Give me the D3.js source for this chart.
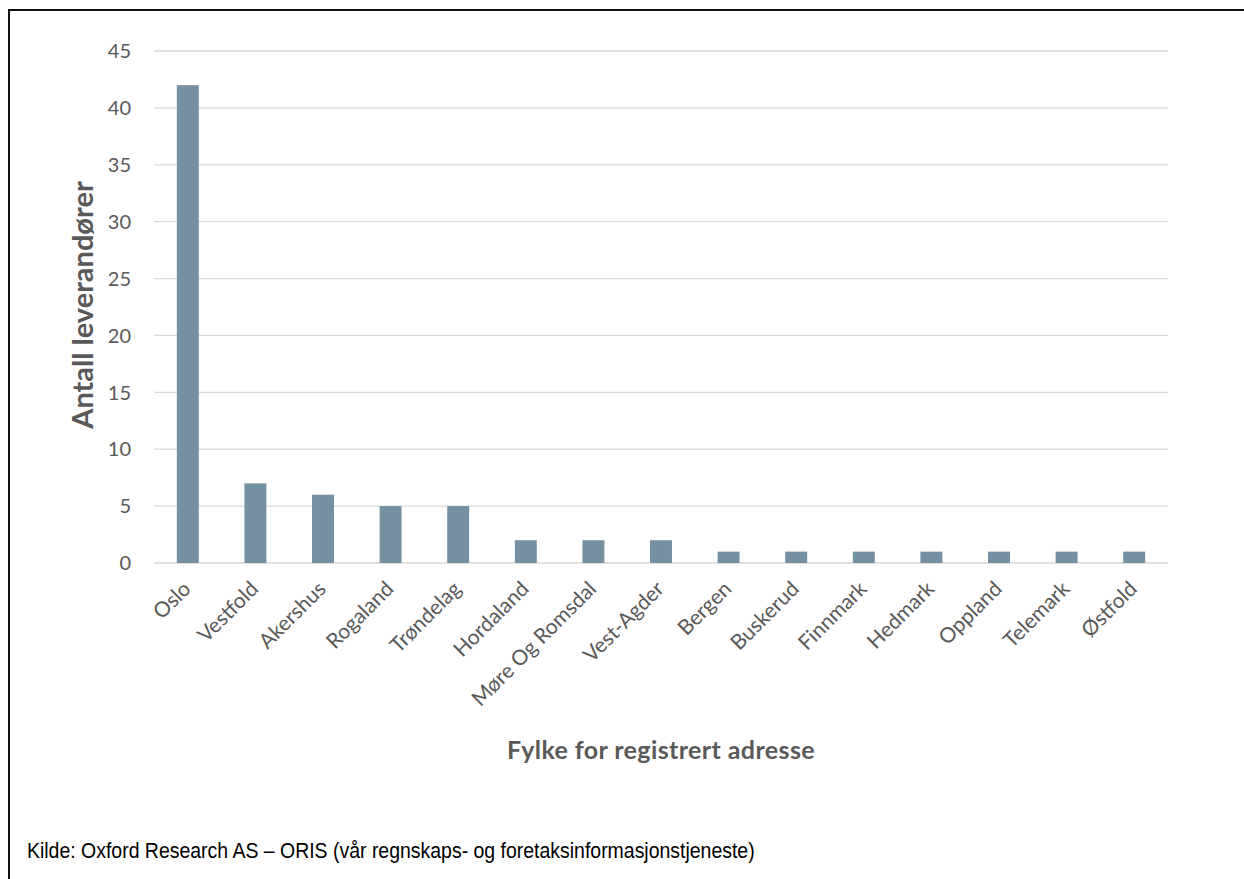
<!DOCTYPE html>
<html>
<head>
<meta charset="utf-8">
<script src="https://cdn.jsdelivr.net/npm/d3@7"></script>
<style>
  html, body { margin: 0; padding: 0; background: #fff; }
  svg { display: block; }
</style>
</head>
<body>
<svg id="chart" width="1244" height="879"></svg>
<script>
(function () {
  "use strict";

  const counties = ["Oslo", "Vestfold", "Akershus", "Rogaland", "Trøndelag", "Hordaland",
    "Møre Og Romsdal", "Vest-Agder", "Bergen", "Buskerud", "Finnmark", "Hedmark",
    "Oppland", "Telemark", "Østfold"];
  const suppliers = [42, 7, 6, 5, 5, 2, 2, 2, 1, 1, 1, 1, 1, 1, 1];
  const yTicks = [0, 5, 10, 15, 20, 25, 30, 35, 40, 45];

  const yTitle = "Antall leverandører";
  const xTitle = "Fylke for registrert adresse";
  const source = "Kilde: Oxford Research AS – ORIS (vår regnskaps- og foretaksinformasjonstjeneste)";

  const font = "Lato, 'Open Sans', sans-serif";
  const grey = "#595959";

  const svg = d3.select("#chart");

  // outer frame (only left and top edges fall inside the picture)
  svg.append("rect")
    .attr("x", 9).attr("y", 10)
    .attr("width", 1260).attr("height", 900)
    .attr("fill", "none").attr("stroke", "#111").attr("stroke-width", 2);

  const plot = { left: 154, right: 1168, top: 51, bottom: 563 };

  const x = d3.scaleBand()
    .domain(counties)
    .range([plot.left, plot.right])
    .paddingInner(0.675)
    .paddingOuter(0.3375);

  const y = d3.scaleLinear()
    .domain([0, 45])
    .range([plot.bottom, plot.top]);

  // gridlines
  svg.append("g")
    .selectAll("line")
    .data(yTicks)
    .join("line")
    .attr("x1", plot.left).attr("x2", plot.right)
    .attr("y1", (d) => y(d)).attr("y2", (d) => y(d))
    .attr("stroke", "#d9d9d9").attr("stroke-width", 1.3);

  // y tick labels
  svg.append("g")
    .selectAll("text")
    .data(yTicks)
    .join("text")
    .attr("x", 131)
    .attr("y", (d) => y(d))
    .attr("dy", "0.36em")
    .attr("text-anchor", "end")
    .attr("font-family", font)
    .attr("font-size", 20)
    .attr("fill", grey)
    .text((d) => d);

  // bars
  svg.append("g")
    .selectAll("rect")
    .data(counties)
    .join("rect")
    .attr("x", (d) => x(d))
    .attr("width", x.bandwidth())
    .attr("y", (d, i) => y(suppliers[i]))
    .attr("height", (d, i) => y(0) - y(suppliers[i]))
    .attr("fill", "#7490a2");

  // x tick labels, rotated
  svg.append("g")
    .selectAll("text")
    .data(counties)
    .join("text")
    .attr("transform", (d) => `translate(${x(d) + x.bandwidth() / 2 - 1},${plot.bottom + 22}) rotate(-45)`)
    .attr("text-anchor", "end")
    .attr("dy", "0.35em")
    .attr("font-family", font)
    .attr("font-size", 21)
    .attr("fill", grey)
    .text((d) => d);

  // axis titles
  svg.append("text")
    .attr("transform", "translate(93,305) rotate(-90)")
    .attr("text-anchor", "middle")
    .attr("font-family", font)
    .attr("font-weight", "bold")
    .attr("font-size", 29)
    .attr("fill", grey)
    .text(yTitle);

  svg.append("text")
    .attr("x", 661).attr("y", 759)
    .attr("text-anchor", "middle")
    .attr("font-family", font)
    .attr("font-weight", "bold")
    .attr("font-size", 25)
    .attr("letter-spacing", 0.4)
    .attr("fill", grey)
    .text(xTitle);

  // source line, narrow sans like the original
  svg.append("text")
    .attr("transform", "translate(27,858) scale(0.905,1)")
    .attr("font-family", "'Liberation Sans', Arial, sans-serif")
    .attr("font-size", 21.5)
    .attr("fill", "#000")
    .text(source);
})();
</script>
</body>
</html>
